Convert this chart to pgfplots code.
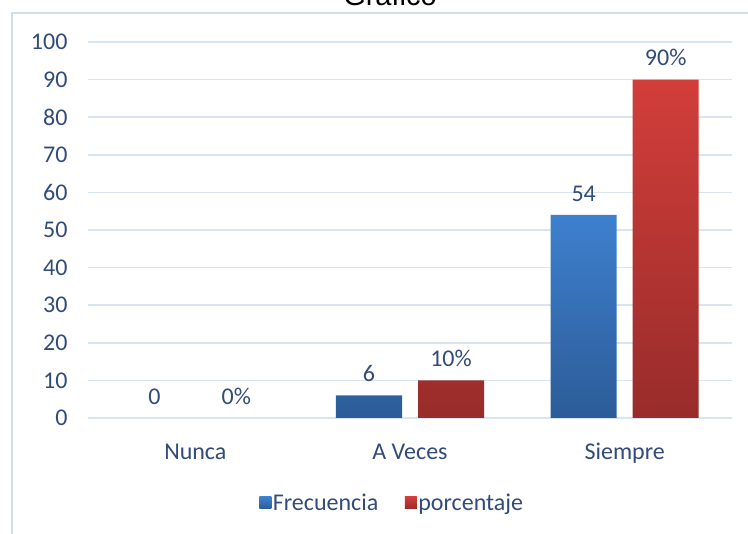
\documentclass[border=0pt]{standalone}
\usepackage{fontspec}
\setmainfont{Carlito}
\newfontfamily\arial{Liberation Sans}
\usepackage{pgfplots}
\pgfplotsset{compat=1.18}
\definecolor{gridc}{RGB}{217,228,241}
\definecolor{framec}{RGB}{208,222,238}
\definecolor{txtc}{RGB}{50,76,122}
\definecolor{bluetop}{RGB}{62,128,206}
\definecolor{bluebot}{RGB}{44,92,152}
\definecolor{redtop}{RGB}{210,62,58}
\definecolor{redbot}{RGB}{152,44,42}
\begin{document}
\begin{tikzpicture}[x=1pt,y=1pt]
\useasboundingbox (0,0) rectangle (748,534);
\fill[white] (0,0) rectangle (748,534);
\draw[framec, line width=1.6pt] (12,-10) -- (12,521) -- (760,521);
\node[font=\arial\fontsize{29}{30}\selectfont, anchor=base, text=black] at (390,528) {Gráfico};
\begin{axis}[
  at={(88pt,116pt)}, anchor=south west,
  scale only axis, width=644pt, height=376pt,
  xmin=-0.5, xmax=2.5, ymin=0, ymax=100,
  ybar=16pt, bar width=66pt,
  xtick={0,1,2}, xticklabels={Nunca,A Veces,Siempre},
  ytick={0,10,...,100},
  major tick length=0pt,
  axis line style={draw=none},
  ymajorgrids, grid style={gridc, line width=1.6pt},
  tick label style={text=txtc, font=\fontsize{24}{26}\selectfont},
  /pgf/number format/assume math mode=true,
  yticklabel style={anchor=east, xshift=-17pt},
  xticklabel style={anchor=base, yshift=-42pt},
  every node near coord/.append style={text=txtc, font=\fontsize{24}{26}\selectfont, yshift=10pt},
  legend columns=2,
  legend style={at={(axis description cs:0.472,-0.226)}, anchor=center, draw=none, fill=none,
    font=\fontsize{24}{26}\selectfont, text=txtc,
    nodes={inner sep=1.5pt},
    /tikz/every even column/.append style={column sep=25pt}},
  legend image code/.code={\path[#1, draw=none] (0pt,-6pt) rectangle (12pt,6pt);},
]
\addplot[draw=none, top color=bluetop, bottom color=bluebot, bar shift=-41pt,
  nodes near coords] coordinates {(1,6) (2,54)};
\addlegendentry{Frecuencia}
\addplot[draw=none, top color=redtop, bottom color=redbot, bar shift=41pt,
  nodes near coords={\pgfmathprintnumber{\pgfplotspointmeta}\%}] coordinates {(1,10) (2,90)};
\addlegendentry{porcentaje}
\addplot[forget plot, draw=none, fill=none, bar shift=-41pt,
  nodes near coords] coordinates {(0,0)};
\addplot[forget plot, draw=none, fill=none, bar shift=41pt,
  nodes near coords={\pgfmathprintnumber{\pgfplotspointmeta}\%}] coordinates {(0,0)};
\end{axis}
\end{tikzpicture}
\end{document}
